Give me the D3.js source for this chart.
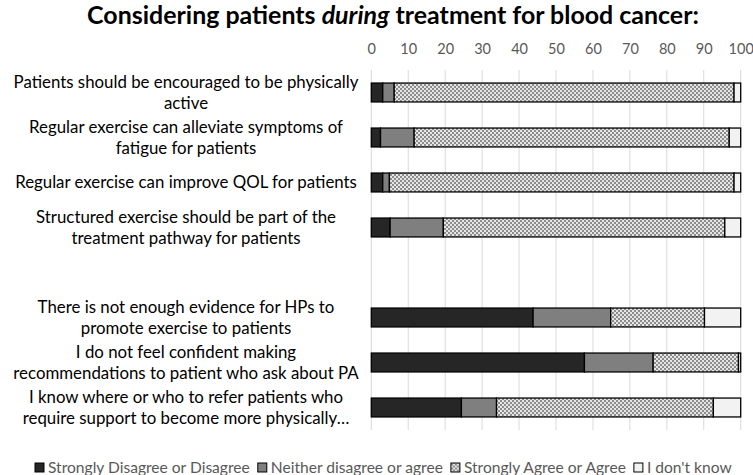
<!DOCTYPE html>
<html>
<head>
<meta charset="utf-8">
<script src="https://cdn.jsdelivr.net/npm/d3@7/dist/d3.min.js"></script>
<style>
  html, body { margin: 0; padding: 0; background: #fff; }
  svg { display: block; }
</style>
</head>
<body>
<svg id="chart" width="753" height="475"></svg>
<script>
// ---- data ----
const categories = [
  ["Patients should be encouraged to be physically", "active"],
  ["Regular exercise can alleviate symptoms of", "fatigue for patients"],
  ["Regular exercise can improve QOL for patients"],
  ["Structured exercise should be part of the", "treatment pathway for patients"],
  null, // blank spacer row
  ["There is not enough evidence for HPs to", "promote exercise to patients"],
  ["I do not feel confident making", "recommendations to patient who ask about PA"],
  ["I know where or who to refer patients who", "require support to become more physically…"]
];
const seriesNames = ["Strongly Disagree or Disagree", "Neither disagree or agree", "Strongly Agree or Agree", "I don't know"];
const disagree = [3.1, 2.5, 3.1, 5.1, null, 43.8, 57.7, 24.4];
const neither  = [3.1, 9.1, 1.8, 14.4, null, 21.0, 18.6, 9.5];
const agree    = [92.0, 85.3, 93.3, 76.2, null, 25.4, 23.1, 58.7];
const dontKnow = [1.8, 3.1, 1.8, 4.3, null, 9.8, 0.6, 7.4];
const xTicks = [0, 10, 20, 30, 40, 50, 60, 70, 80, 90, 100];

const FONT = "Lato, 'Open Sans', sans-serif";
const svg = d3.select("#chart");

// pattern for checkerboard
const defs = svg.append("defs");
const pat = defs.append("pattern").attr("id", "checker")
  .attr("width", 4).attr("height", 4).attr("patternUnits", "userSpaceOnUse");
pat.append("rect").attr("width", 4).attr("height", 4).attr("fill", "#e6e6e6");
pat.append("rect").attr("x", 0).attr("y", 0).attr("width", 2).attr("height", 2).attr("fill", "#8c8c8c");
pat.append("rect").attr("x", 2).attr("y", 2).attr("width", 2).attr("height", 2).attr("fill", "#8c8c8c");

const fills = ["#262626", "#7f7f7f", "url(#checker)", "#f2f2f2"];

const rows = categories.map((c, i) => ({
  key: "r" + i, lines: c,
  s0: disagree[i], s1: neither[i], s2: agree[i], s3: dontKnow[i]
}));

const x = d3.scaleLinear().domain([0, 100]).range([371.3, 740.7]);
const y = d3.scaleBand().domain(rows.map(r => r.key)).range([70, 430])
  .paddingInner(0.58).paddingOuter(0.29);

// gridlines
svg.append("g").selectAll("line").data(xTicks).join("line")
  .attr("x1", d => x(d)).attr("x2", d => x(d))
  .attr("y1", 70).attr("y2", 430)
  .attr("stroke", "#d9d9d9").attr("stroke-width", 1);

// top axis labels
const xAxis = d3.axisTop(x).tickValues(xTicks).tickSize(0).tickPadding(0);
const gx = svg.append("g").attr("transform", "translate(0,54)").call(xAxis);
gx.select(".domain").remove();
gx.selectAll("text").attr("fill", "#595959").style("font-family", FONT).style("font-size", "14.5px");

// bars
const dataRows = rows.filter(r => r.lines);
const stack = d3.stack().keys(["s0", "s1", "s2", "s3"]);
const stacked = stack(dataRows);
svg.append("g").selectAll("g").data(stacked).join("g")
  .attr("fill", (d, i) => fills[i])
  .selectAll("rect").data(d => d).join("rect")
  .attr("x", d => x(d[0]))
  .attr("width", d => x(d[1]) - x(d[0]))
  .attr("y", d => y(d.data.key))
  .attr("height", y.bandwidth())
  .attr("stroke", "#000").attr("stroke-width", 1.3);

// category labels
const labelX = 186;
const lineH = 21;
const lg = svg.append("g");
dataRows.forEach(r => {
  const cy = y(r.key) + y.bandwidth() / 2;
  const n = r.lines.length;
  r.lines.forEach((t, i) => {
    lg.append("text")
      .attr("x", labelX)
      .attr("y", cy + (i - (n - 1) / 2) * lineH)
      .attr("dy", "0.35em")
      .attr("text-anchor", "middle")
      .style("font-family", FONT)
      .style("font-size", "16px")
      .attr("fill", "#000")
      .text(t);
  });
});
(function () {
  const ref = lg.selectAll("text").filter(function () { return this.textContent.startsWith("Patients should"); }).node();
  const w = ref.getComputedTextLength();
  const fs = 16 * 345 / w;
  lg.selectAll("text").style("font-size", fs.toFixed(2) + "px");
})();

// title
const title = svg.append("text")
  .attr("x", 393).attr("y", 24)
  .attr("text-anchor", "middle")
  .style("font-family", FONT)
  .style("font-weight", "bold")
  .style("font-size", "21px")
  .attr("fill", "#000");
title.append("tspan").text("Considering patients ");
title.append("tspan").style("font-style", "italic").text("during");
title.append("tspan").text(" treatment for blood cancer:");
(function () {
  const w = title.node().getComputedTextLength();
  title.style("font-size", (21 * 612 / w).toFixed(2) + "px");
})();

// legend
const legend = svg.append("g");
const items = seriesNames.map((name, i) => {
  const g = legend.append("g");
  g.append("rect").attr("width", 9).attr("height", 9).attr("y", -4.5)
    .attr("fill", fills[i]).attr("stroke", "#000").attr("stroke-width", 1);
  g.append("text").attr("x", 13).attr("dy", "0.35em")
    .style("font-family", FONT).style("font-size", "14px")
    .attr("fill", "#595959").text(name);
  return g;
});
(function () {
  const gap = 8;
  let textW = 0;
  items.forEach(g => { textW += g.select("text").node().getComputedTextLength(); });
  const avail = (732 - 35) - items.length * 13 - gap * (items.length - 1);
  const fs = 14 * avail / textW;
  items.forEach(g => g.select("text").style("font-size", fs.toFixed(2) + "px"));
  let cx = 35;
  items.forEach(g => {
    g.attr("transform", `translate(${cx},467.5)`);
    cx += 13 + g.select("text").node().getComputedTextLength() + gap;
  });
})();
</script>
</body>
</html>
